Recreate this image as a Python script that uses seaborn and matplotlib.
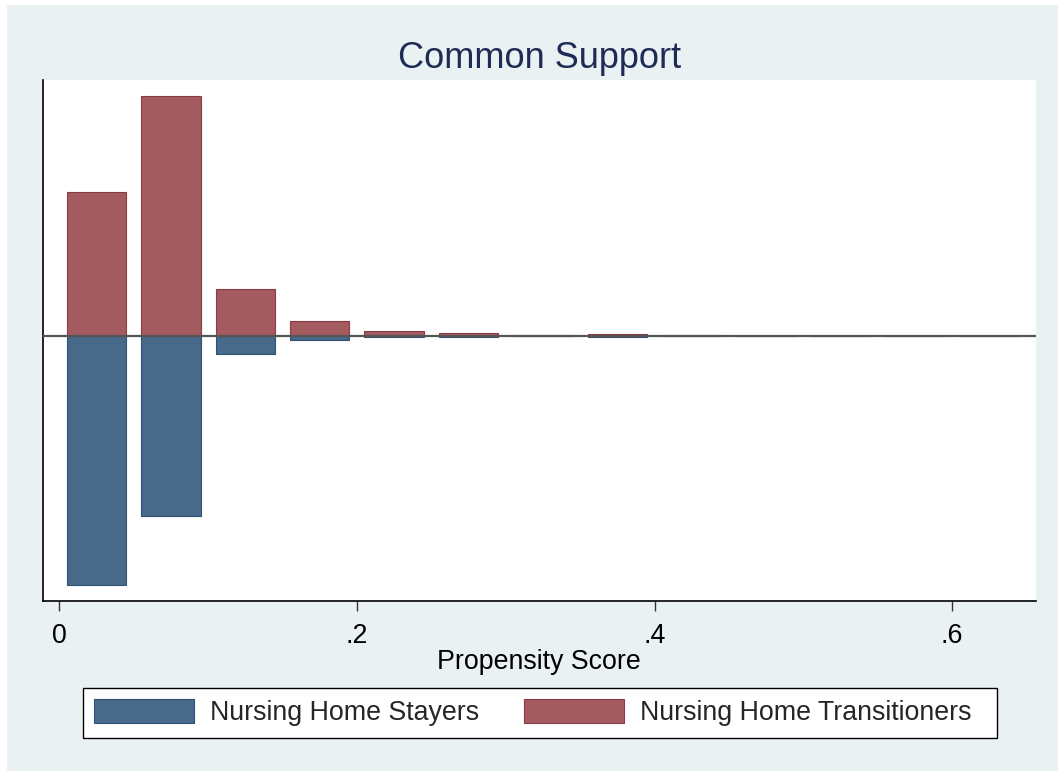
import numpy as np
import pandas as pd
import matplotlib
matplotlib.use("Agg")
import matplotlib.pyplot as plt
import seaborn as sns
from matplotlib.patches import Rectangle, Patch

# ---- data (percent of group per propensity-score bin) ----
bin_centers = [0.025, 0.075, 0.125, 0.175, 0.225, 0.275, 0.325,
               0.375, 0.425, 0.475, 0.525, 0.575, 0.625]
transitioners_pct = [31.6, 52.6, 10.2, 3.3, 0.97, 0.55, 0.22, 0.44, 0.15, 0.0, 0.0, 0.0, 0.0]
stayers_pct = [54.7, 39.6, 4.0, 0.94, 0.33, 0.22, 0.11, 0.22, 0.11, 0.1, 0.1, 0.1, 0.1]
x_ticks = [0, 0.2, 0.4, 0.6]
x_tick_labels = ["0", ".2", ".4", ".6"]
series_labels = ["Nursing Home Stayers", "Nursing Home Transitioners"]
title = "Common Support"
x_label = "Propensity Score"

# ---- style ----
sns.set_theme(style="white")
plt.rcParams["font.family"] = ["Liberation Sans", "DejaVu Sans"]

bg = "#EAF1F3"
blue_face, blue_edge = "#476A8A", "#2E5274"
red_face, red_edge = "#A35B60", "#8C3A45"

W, H = 1058, 772
fig = plt.figure(figsize=(W / 100, H / 100), dpi=100, facecolor="white")
fig.patches.append(Rectangle((7 / W, 1 / H), 1, (H - 6) / H, transform=fig.transFigure,
                             facecolor=bg, edgecolor="none", zorder=-10))

left, right, top, bottom = 42.7, 1036, 80, 600.7
ax = fig.add_axes([left / W, 1 - bottom / H, (right - left) / W, (bottom - top) / H])
ax.set_facecolor("white")

df_t = pd.DataFrame({"x": bin_centers, "y": transitioners_pct})
df_s = pd.DataFrame({"x": bin_centers, "y": [-v for v in stayers_pct]})

sns.barplot(data=df_s, x="x", y="y", native_scale=True, width=0.8, color=blue_face,
            edgecolor=blue_edge, linewidth=0.8, saturation=1, errorbar=None, ax=ax)
sns.barplot(data=df_t, x="x", y="y", native_scale=True, width=0.8, color=red_face,
            edgecolor=red_edge, linewidth=0.8, saturation=1, errorbar=None, ax=ax)

ax.axhline(0, color="#555555", lw=1.6, zorder=5)

ax.set_xlim(-0.0112, 0.6564)
ax.set_ylim(-58.1, 56.1)
ax.set_yticks([])
ax.set_xticks(x_ticks)
ax.set_xticklabels(x_tick_labels, fontsize=19.3, color="black")
ax.tick_params(axis="x", direction="out", length=7, width=1, color="#333333", pad=9, bottom=True)
ax.set_xlabel(x_label, fontsize=19.3, labelpad=0, color="black")
ax.set_ylabel("")

for s in ["top", "right"]:
    ax.spines[s].set_visible(False)
for s in ["left", "bottom"]:
    ax.spines[s].set_visible(True)
    ax.spines[s].set_color("black")
    ax.spines[s].set_linewidth(1.2)

fig.text(540 / W, 1 - 67.7 / H, title, fontsize=26, color="#1E2B55",
         ha="center", va="baseline")

# legend frame (Stata-style box) and legend content
lx0, lx1, ly0, ly1 = 82.7, 996.7, 687.7, 737.7
fig.patches.append(Rectangle((lx0 / W, 1 - ly1 / H), (lx1 - lx0) / W, (ly1 - ly0) / H,
                             transform=fig.transFigure, facecolor="white",
                             edgecolor="black", linewidth=1.0, zorder=1))

handles = [Patch(facecolor=blue_face, edgecolor=blue_edge, linewidth=0.8),
           Patch(facecolor=red_face, edgecolor=red_edge, linewidth=0.8)]
leg = fig.legend(handles, series_labels, loc="center left",
                 bbox_to_anchor=(94 / W, 1 - 712.7 / H), borderaxespad=0,
                 ncol=2, fontsize=19.3, frameon=False, handlelength=3.73, handleheight=1.0,
                 handletextpad=0.6, columnspacing=1.68, borderpad=0)
leg.set_zorder(3)

fig.savefig("out.png", dpi=100, facecolor=fig.get_facecolor())
